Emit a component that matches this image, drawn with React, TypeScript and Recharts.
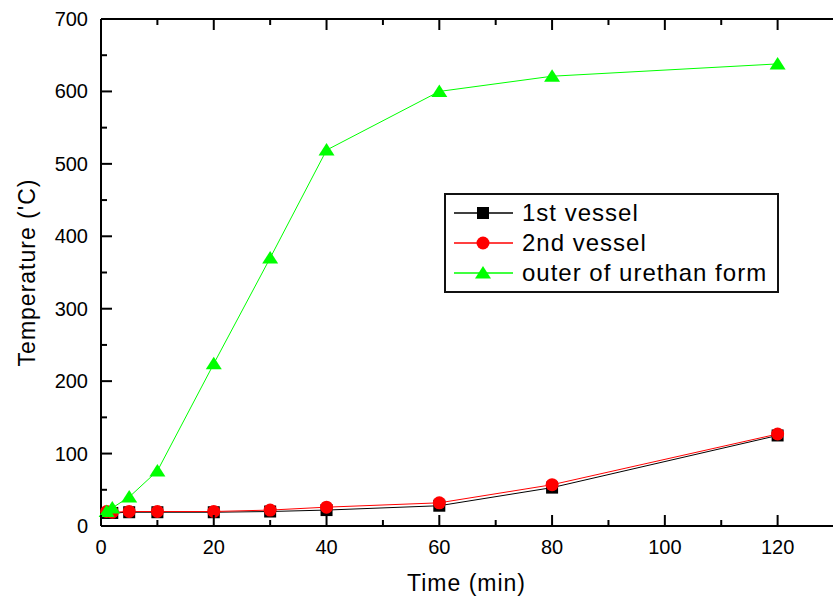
import React from 'react'
import { Legend, Line, LineChart, XAxis, YAxis } from 'recharts'

const FONT = '"Liberation Sans", Arial, sans-serif'

const TIME = [1, 2, 5, 10, 20, 30, 40, 60, 80, 120]
const VESSEL_1 = [18, 18, 19, 19, 19, 20, 22, 28, 53, 125]
const VESSEL_2 = [20, 19, 20, 20, 20, 22, 26, 32, 57, 127]
const URETHAN = [20, 25, 40, 76, 224, 370, 519, 600, 621, 638]

const X_TICKS = [0, 10, 20, 30, 40, 50, 60, 70, 80, 90, 100, 110, 120, 130]
const Y_TICKS = [0, 50, 100, 150, 200, 250, 300, 350, 400, 450, 500, 550, 600, 650, 700]
const X_LABELS = [0, 20, 40, 60, 80, 100, 120]
const Y_LABELS = [0, 100, 200, 300, 400, 500, 600, 700]

const SERIES = [
  { key: 'v1', name: '1st vessel', color: '#000000', marker: 'square' },
  { key: 'v2', name: '2nd vessel', color: '#ff0000', marker: 'circle' },
  { key: 'u', name: 'outer of urethan form', color: '#00ff00', marker: 'triangle' },
]

const data = TIME.map((t, i) => ({ time: t, v1: VESSEL_1[i], v2: VESSEL_2[i], u: URETHAN[i] }))

const Marker = ({ cx, cy, kind, color }: any) => {
  if (cx == null || cy == null) return null
  if (kind === 'square') return <rect x={cx - 6} y={cy - 6} width={12} height={12} fill={color} />
  if (kind === 'circle') return <circle cx={cx} cy={cy} r={6.5} fill={color} />
  return <polygon points={`${cx},${cy - 7} ${cx - 8},${cy + 5.5} ${cx + 8},${cy + 5.5}`} fill={color} />
}

const BottomTick = ({ x, y, payload }: any) => {
  const major = X_LABELS.includes(payload.value)
  return (
    <g>
      <line x1={x} x2={x} y1={y} y2={y - (major ? 11 : 6)} stroke="#000" strokeWidth={2} />
      {major && (
        <text x={x} y={y + 28} textAnchor="middle" fontSize={20} fontFamily={FONT} fill="#000">
          {payload.value}
        </text>
      )}
    </g>
  )
}

const TopTick = ({ x, y, payload }: any) => {
  const major = X_LABELS.includes(payload.value)
  return <line x1={x} x2={x} y1={y} y2={y + (major ? 11 : 6)} stroke="#000" strokeWidth={2} />
}

const LeftTick = ({ x, y, payload }: any) => {
  const major = Y_LABELS.includes(payload.value)
  return (
    <g>
      <line x1={x} x2={x + (major ? 11 : 6)} y1={y} y2={y} stroke="#000" strokeWidth={2} />
      {major && (
        <text x={x - 13} y={y + 7} textAnchor="end" fontSize={20} fontFamily={FONT} fill="#000">
          {payload.value}
        </text>
      )}
    </g>
  )
}

const RightTick = ({ x, y, payload }: any) => {
  const major = Y_LABELS.includes(payload.value)
  return <line x1={x} x2={x - (major ? 11 : 6)} y1={y} y2={y} stroke="#000" strokeWidth={2} />
}

const LegendBox = () => (
  <div
    style={{
      border: '2px solid #111',
      background: '#fff',
      width: 335,
      boxSizing: 'border-box',
      padding: '3px 0',
      fontFamily: FONT,
      fontSize: 24,
      letterSpacing: 1,
    }}
  >
    {SERIES.map((s) => (
      <div key={s.key} style={{ display: 'flex', alignItems: 'center', height: 30 }}>
        <svg width={70} height={30} style={{ marginLeft: 6 }}>
          <line x1={2} x2={61} y1={15} y2={15} stroke={s.color} strokeWidth={1.5} />
          <Marker cx={31} cy={15} kind={s.marker} color={s.color} />
        </svg>
        <span style={{ color: '#000', lineHeight: '30px' }}>{s.name}</span>
      </div>
    ))}
  </div>
)

const XTitle = (props: any) => {
  const vb = props.viewBox || { x: 101, y: 526, width: 733, height: 78 }
  return (
    <text x={vb.x + vb.width / 2 - 1} y={591} textAnchor="middle" fontSize={23} letterSpacing={1} fontFamily={FONT} fill="#000">
      Time (min)
    </text>
  )
}

const YTitle = (props: any) => {
  const vb = props.viewBox || { x: 0, y: 19, width: 101, height: 507 }
  const cy = vb.y + vb.height / 2
  return (
    <text
      x={35}
      y={cy}
      transform={`rotate(-90, 35, ${cy})`}
      textAnchor="middle"
      fontSize={23}
      letterSpacing={1}
      fontFamily={FONT}
      fill="#000"
    >
      Temperature ('C)
    </text>
  )
}

export default function App() {
  return (
    <div style={{ position: 'absolute', left: 0, top: 0, width: 833, height: 604, overflow: 'hidden', background: '#fff' }}>
      <LineChart width={835} height={604} data={data} margin={{ top: 18, right: 0, bottom: 0, left: 0 }}>
        <XAxis
          xAxisId="b"
          dataKey="time"
          type="number"
          domain={[0, 130]}
          ticks={X_TICKS}
          interval={0}
          tickLine={false}
          tickSize={0}
          tickMargin={0}
          tick={(p: any) => <BottomTick {...p} />}
          axisLine={{ stroke: '#000', strokeWidth: 2 }}
          height={78}
          label={{ content: (p: any) => <XTitle {...p} /> }}
        />
        <XAxis
          xAxisId="t"
          orientation="top"
          dataKey="time"
          type="number"
          domain={[0, 130]}
          ticks={X_TICKS}
          interval={0}
          tickLine={false}
          tickSize={0}
          tickMargin={0}
          tick={(p: any) => <TopTick {...p} />}
          axisLine={{ stroke: '#000', strokeWidth: 2 }}
          height={1}
        />
        <YAxis
          yAxisId="l"
          type="number"
          domain={[0, 700]}
          ticks={Y_TICKS}
          interval={0}
          tickLine={false}
          tickSize={0}
          tickMargin={0}
          tick={(p: any) => <LeftTick {...p} />}
          axisLine={{ stroke: '#000', strokeWidth: 2 }}
          width={101}
          label={{ content: (p: any) => <YTitle {...p} /> }}
        />
        <YAxis
          yAxisId="r"
          orientation="right"
          type="number"
          domain={[0, 700]}
          ticks={Y_TICKS}
          interval={0}
          tickLine={false}
          tickSize={0}
          tickMargin={0}
          tick={(p: any) => <RightTick {...p} />}
          axisLine={{ stroke: '#000', strokeWidth: 2 }}
          width={1}
        />
        {SERIES.map((s) => (
          <Line
            key={s.key}
            xAxisId="b"
            yAxisId="l"
            dataKey={s.key}
            name={s.name}
            type="linear"
            stroke={s.color}
            strokeWidth={1}
            isAnimationActive={false}
            dot={(p: any) => <Marker key={`${s.key}-${p.index}`} cx={p.cx} cy={p.cy} kind={s.marker} color={s.color} />}
            activeDot={false}
          />
        ))}
        <Legend
          layout="vertical"
          align="center"
          verticalAlign="middle"
          content={() => <LegendBox />}
          wrapperStyle={{ position: 'absolute', left: 444, top: 193, width: 335 }}
        />
      </LineChart>
    </div>
  )
}
